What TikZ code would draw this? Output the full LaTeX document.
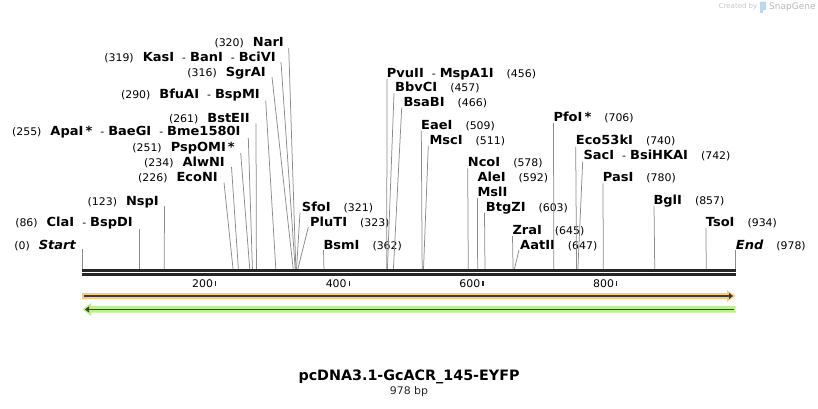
\documentclass[tikz,border=0pt]{standalone}
\usepackage{fontspec}
\setmainfont{DejaVu Sans}
\newfontfamily\labelfont[FakeStretch=1.04]{DejaVu Sans}
\usetikzlibrary{arrows.meta,positioning}
\definecolor{barblack}{HTML}{262626}
\definecolor{sitegray}{HTML}{8C8C8C}
\definecolor{featorange}{HTML}{F9CC80}
\definecolor{featgreen}{HTML}{BCF08C}
\definecolor{featdark}{HTML}{3D3D3D}
\definecolor{featdarkg}{HTML}{3B4733}
\definecolor{logoblue}{HTML}{B9D7EE}

\newcommand{\enz}[1]{{\labelfont\fontsize{12.5}{13}\selectfont\bfseries #1}}
\newcommand{\bpn}[1]{{\labelfont\fontsize{10.5}{13}\selectfont(#1)}}
\newcommand{\lgap}{\hspace{9pt}}
\newcommand{\rgap}{\hspace{13pt}}
\newcommand{\enzsep}{\hspace{8pt}{\labelfont\fontsize{10.5}{13}\selectfont-}\hspace{4pt}}

\begin{document}
\begin{tikzpicture}[x=1pt,y=-1pt]
        \tikzset{lft/.style={anchor=east, inner sep=0pt, text height=9.1pt, text depth=0pt},
                 rgt/.style={anchor=west, inner sep=0pt, text height=9.1pt, text depth=0pt},
                 cut/.style={draw=sitegray, line width=0.75pt},
                 barline/.style={draw=barblack, line width=2.6pt},
                 tick/.style={draw=barblack, line width=1.2pt}}
        \def\bpx{0.6683}
        \useasboundingbox (0,0) rectangle (818,408);

        % cut positions on the sequence
        \foreach \p in {0,86,123,226,234,251,255,261,290,316,319,320,321,323,362,
                        456,457,466,509,511,578,592,603,645,647,706,740,742,780,857,934,978}
            \coordinate (s\p) at ({82+\p*\bpx},269);

        % labels left of their sites
        \node[lft] (start) at (76,245) {\bpn{0}\lgap{\labelfont\fontsize{12.5}{13}\selectfont\bfseries\itshape Start}};
        \node[lft] (claI) at (133,222) {\bpn{86}\lgap\enz{ClaI}\enzsep\enz{BspDI}};
        \node[lft] (nspI) at (159,200.5) {\bpn{123}\lgap\enz{NspI}};
        \node[lft] (ecoNI) at (218,176.7) {\bpn{226}\lgap\enz{EcoNI}};
        \node[lft] (alwNI) at (225,162) {\bpn{234}\lgap\enz{AlwNI}};
        \node[lft] (pspOMI) at (235,146.7) {\bpn{251}\lgap\enz{PspOMI\,*}};
        \node[lft] (apaI) at (240.7,130.7) {\bpn{255}\lgap\enz{ApaI\,*}\enzsep\enz{BaeGI}\enzsep\enz{Bme1580I}};
        \node[lft] (bstEII) at (250,117.7) {\bpn{261}\lgap\enz{BstEII}};
        \node[lft] (bfuAI) at (260,94) {\bpn{290}\lgap\enz{BfuAI}\enzsep\enz{BspMI}};
        \node[lft] (sgrAI) at (266,71.7) {\bpn{316}\lgap\enz{SgrAI}};
        \node[lft] (kasI) at (276,56.7) {\bpn{319}\lgap\enz{KasI}\enzsep\enz{BanI}\enzsep\enz{BciVI}};
        \node[lft] (narI) at (284,42.3) {\bpn{320}\lgap\enz{NarI}};

        \coordinate (start-t) at (82,249);
        \coordinate (claI-t) at (139.5,229);
        \coordinate (nspI-t) at (164.5,206);
        \coordinate (ecoNI-t) at (224,182.5);
        \coordinate (alwNI-t) at (231.5,167);
        \coordinate (pspOMI-t) at (240.7,153);
        \coordinate (apaI-t) at (248.3,137.5);
        \coordinate (bstEII-t) at (256,123.3);
        \coordinate (bfuAI-t) at (265.7,100.5);
        \coordinate (sgrAI-t) at (272,77);
        \coordinate (kasI-t) at (281,62);
        \coordinate (narI-t) at (288.7,48);

        \draw[cut] (start-t) -- (s0);
        \draw[cut] (claI-t) -- (s86);
        \draw[cut] (nspI-t) -- (s123);
        \draw[cut] (ecoNI-t) -- (s226);
        \draw[cut] (alwNI-t) -- (s234);
        \draw[cut] (pspOMI-t) -- (s251);
        \draw[cut] (apaI-t) -- (s255);
        \draw[cut] (bstEII-t) -- (s261);
        \draw[cut] (bfuAI-t) -- (s290);
        \draw[cut] (sgrAI-t) -- (s316);
        \draw[cut] (kasI-t) -- (s319);
        \draw[cut] (narI-t) -- (s320);

        % labels right of their sites
        \node[rgt] (sfoI) at (301.7,206.7) {\enz{SfoI}\rgap\bpn{321}};
        \node[rgt] (pluTI) at (310,221.7) {\enz{PluTI}\rgap\bpn{323}};
        \node[rgt] (bsmI) at (323.3,245) {\enz{BsmI}\rgap\bpn{362}};
        \node[rgt] (pvuII) at (386.7,72.7) {\enz{PvuII}\enzsep\enz{MspA1I}\rgap\bpn{456}};
        \node[rgt] (bbvCI) at (395,86.7) {\enz{BbvCI}\rgap\bpn{457}};
        \node[rgt] (bsaBI) at (403.3,101.7) {\enz{BsaBI}\rgap\bpn{466}};
        \node[rgt] (eaeI) at (421,125) {\enz{EaeI}\rgap\bpn{509}};
        \node[rgt] (mscI) at (429.3,140) {\enz{MscI}\rgap\bpn{511}};
        \node[rgt] (ncoI) at (467.7,162.3) {\enz{NcoI}\rgap\bpn{578}};
        \node[rgt] (aleI) at (477.3,176.7) {\enz{AleI}\rgap\bpn{592}};
        \node[rgt] (mslI) at (477.3,191.7) {\enz{MslI}};
        \node[rgt] (btgZI) at (485.7,206.7) {\enz{BtgZI}\rgap\bpn{603}};
        \node[rgt] (zraI) at (512.3,230) {\enz{ZraI}\rgap\bpn{645}};
        \node[rgt] (aatII) at (520,245) {\enz{AatII}\rgap\bpn{647}};
        \node[rgt] (pfoI) at (553.3,116.7) {\enz{PfoI\,*}\rgap\bpn{706}};
        \node[rgt] (eco53kI) at (575.7,140) {\enz{Eco53kI}\rgap\bpn{740}};
        \node[rgt] (sacI) at (583.3,155) {\enz{SacI}\enzsep\enz{BsiHKAI}\rgap\bpn{742}};
        \node[rgt] (pasI) at (602.7,177.3) {\enz{PasI}\rgap\bpn{780}};
        \node[rgt] (bglI) at (653.3,200) {\enz{BglI}\rgap\bpn{857}};
        \node[rgt] (tsoI) at (705.7,222.3) {\enz{TsoI}\rgap\bpn{934}};
        \node[rgt] (end) at (735.7,245) {{\labelfont\fontsize{12.5}{13}\selectfont\bfseries\itshape End}\rgap\bpn{978}};

        \coordinate (sfoI-t) at (300,212.7);
        \coordinate (pluTI-t) at (308.3,227.3);
        \coordinate (bsmI-t) at (323.5,250);
        \coordinate (pvuII-t) at (387,79);
        \coordinate (bbvCI-t) at (394,93.3);
        \coordinate (bsaBI-t) at (401.7,107.7);
        \coordinate (eaeI-t) at (421.3,130.5);
        \coordinate (mscI-t) at (428.3,145.5);
        \coordinate (ncoI-t) at (467.7,168.3);
        \coordinate (mslI-t) at (477.5,198);
        \coordinate (btgZI-t) at (484.5,212.7);
        \coordinate (zraI-t) at (512.5,236);
        \coordinate (aatII-t) at (519,250);
        \coordinate (pfoI-t) at (553.5,123);
        \coordinate (eco53kI-t) at (575.7,146.5);
        \coordinate (sacI-t) at (582.7,161.5);
        \coordinate (pasI-t) at (603,183.3);
        \coordinate (bglI-t) at (654,206);
        \coordinate (tsoI-t) at (706,228);
        \coordinate (end-t) at (735.6,250);

        \draw[cut] (sfoI-t) -- (s321);
        \draw[cut] (pluTI-t) -- (s323);
        \draw[cut] (bsmI-t) -- (s362);
        \draw[cut] (pvuII-t) -- (s456);
        \draw[cut] (bbvCI-t) -- (s457);
        \draw[cut] (bsaBI-t) -- (s466);
        \draw[cut] (eaeI-t) -- (s509);
        \draw[cut] (mscI-t) -- (s511);
        \draw[cut] (ncoI-t) -- (s578);
        \draw[cut] (mslI-t) -- (s592);
        \draw[cut] (btgZI-t) -- (s603);
        \draw[cut] (zraI-t) -- (s645);
        \draw[cut] (aatII-t) -- (s647);
        \draw[cut] (pfoI-t) -- (s706);
        \draw[cut] (eco53kI-t) -- (s740);
        \draw[cut] (sacI-t) -- (s742);
        \draw[cut] (pasI-t) -- (s780);
        \draw[cut] (bglI-t) -- (s857);
        \draw[cut] (tsoI-t) -- (s934);
        \draw[cut] (end-t) -- (s978);

        % double strand and ruler
        \draw[barline] (82,270.3) -- (735.6,270.3);
        \draw[barline] (82,274.4) -- (735.6,274.4);
        \foreach \t in {200,400,600,800} {
            \draw[tick] ({82+\t*\bpx},281) -- ++(0,5);
            \node[anchor=east, inner sep=0pt, font=\labelfont\fontsize{10.5}{12}\selectfont] (tk\t) at ({82+\t*\bpx-2.5},283.3) {\t};
        }

        % features
        \fill[featorange] (82,293) -- (727,293) -- (727,290) -- (735.7,296) -- (727,302) -- (727,299) -- (82,299) -- cycle;
        \draw[featdark, line width=1.8pt, -{Triangle[length=4pt,width=6pt]}] (84,296) -- (733,296);
        \fill[featgreen] (735.7,306.2) -- (91,306.2) -- (91,303) -- (82.3,309.4) -- (91,315.8) -- (91,312.6) -- (735.7,312.6) -- cycle;
        \draw[featdarkg, line width=1.8pt, -{Triangle[length=4pt,width=6pt]}] (733.7,309.4) -- (85,309.4);

        % title
        \node[inner sep=0pt, font=\fontsize{14.3}{16}\selectfont\bfseries] (title) at (409,377) {pcDNA3.1-GcACR\_145-EYFP};
        \node[inner sep=0pt, font=\labelfont\fontsize{10.5}{12}\selectfont, text=barblack] (length) at (409,392) {978 bp};

        % watermark
        \node[anchor=east, inner sep=0pt, font=\fontsize{7}{8}\selectfont, text=gray!45] (crby) at (757.5,7) {Created by};
        \fill[logoblue, rounded corners=1pt] (760,1.5) rectangle (766,10);
        \fill[logoblue] (760,9) rectangle (763,13);
        \node[anchor=west, inner sep=0pt, font=\fontsize{9}{10}\selectfont, text=gray!55] (snapgene) at (769,7) {SnapGene};
\end{tikzpicture}
\end{document}
